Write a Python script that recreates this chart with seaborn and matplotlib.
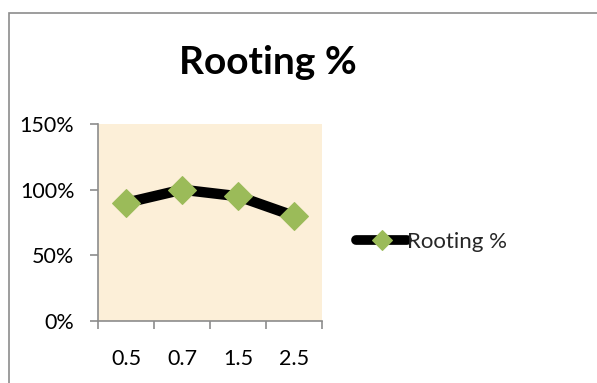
import matplotlib
matplotlib.use("Agg")
import matplotlib.pyplot as plt
import seaborn as sns
import pandas as pd
from matplotlib.patches import Rectangle
from matplotlib.ticker import FixedLocator, PercentFormatter

concentrations = ["0.5", "0.7", "1.5", "2.5"]
rooting_pct = [90, 100, 95, 80]
series_name = "Rooting %"

sns.set_theme(style="white")
plt.rcParams["font.family"] = ["Lato", "DejaVu Sans"]

W, H = 597, 383
fig = plt.figure(figsize=(W / 100, H / 100), dpi=100)
fig.patch.set_facecolor("white")

# chart frame (extends past right/bottom edges)
fig.patches.append(Rectangle((9 / W, -0.1), 1.2, (H - 13) / H + 0.1,
                             transform=fig.transFigure, fill=False,
                             edgecolor="#8c8c8c", linewidth=1.2))

ax = fig.add_axes([98 / W, 1 - 321 / H, (322 - 98) / W, (321 - 124) / H])
ax.set_facecolor("#fcefd8")

df = pd.DataFrame({"x": range(len(concentrations)), "y": rooting_pct})
sns.lineplot(data=df, x="x", y="y", ax=ax, color="black", linewidth=7.5,
             marker="D", markersize=14, markerfacecolor="#9bbb59",
             markeredgecolor="#9bbb59", label=series_name, legend=False,
             solid_capstyle="round", solid_joinstyle="round")

ax.set_xlim(-0.5, len(concentrations) - 0.5)
ax.set_ylim(0, 150)
ax.set_yticks([0, 50, 100, 150])
ax.yaxis.set_major_formatter(PercentFormatter(decimals=0))
ax.xaxis.set_major_locator(FixedLocator([i - 0.5 for i in range(len(concentrations) + 1)]))
ax.xaxis.set_minor_locator(FixedLocator(range(len(concentrations))))
ax.set_xticklabels([], minor=False)
ax.set_xticklabels(concentrations, minor=True)
ax.tick_params(axis="x", which="major", direction="out", length=6, width=1.2,
               color="#8c8c8c", bottom=True)
ax.tick_params(axis="x", which="minor", length=0, pad=20, labelsize=15.5,
               labelcolor="black")
ax.tick_params(axis="y", direction="out", length=6, width=1.2, color="#8c8c8c",
               left=True, labelsize=15.5, labelcolor="black", pad=11)
ax.set_xlabel("")
ax.set_ylabel("")
for s in ["top", "right"]:
    ax.spines[s].set_visible(False)
for s in ["left", "bottom"]:
    ax.spines[s].set_color("#8c8c8c")
    ax.spines[s].set_linewidth(1.2)

fig.text(268 / W, 1 - 63 / H, series_name, ha="center", va="center",
         fontsize=28, fontweight="bold", color="black")

leg = ax.legend(loc="center left", bbox_to_anchor=(356 / W, 1 - 242 / H),
                bbox_transform=fig.transFigure, frameon=False, fontsize=16,
                handlelength=2.3, handletextpad=0.0, borderpad=0,
                borderaxespad=0)
handle = leg.legend_handles[0]
handle.set_markersize(10)
handle.set_linewidth(7)
handle.set_solid_capstyle("round")

fig.savefig("out.png", dpi=100)
